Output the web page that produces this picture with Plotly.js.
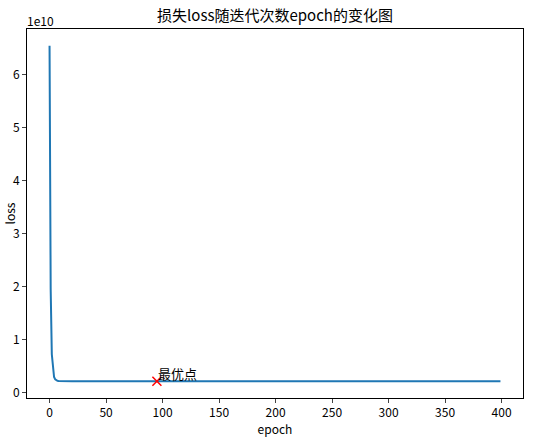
<!DOCTYPE html>
<html>
<head>
<meta charset="utf-8">
<script src="https://cdn.plot.ly/plotly-3.0.1.min.js"></script>
<style>html,body{margin:0;padding:0;background:#fff;}#chart{width:551px;height:442px;}</style>
</head>
<body>
<div id="chart"></div>
<script>
// Values
const epochs = [0, 1, 2, 3, 4, 5, 6, 7, 8, 10, 15, 20, 30, 50, 95, 150, 200, 250, 300, 350, 399];
const loss = [6.55e10, 1.95e10, 0.72e10, 0.40e10, 0.29e10, 0.245e10, 0.226e10, 0.218e10, 0.215e10, 0.213e10, 0.2122e10, 0.2118e10, 0.2115e10, 0.2112e10, 0.2110e10, 0.2111e10, 0.2112e10, 0.2112e10, 0.2113e10, 0.2113e10, 0.2113e10];
const bestEpoch = [95];
const bestLoss = [0.2110e10];
const xTicks = [0, 50, 100, 150, 200, 250, 300, 350, 400];
const yTicks = [0, 1e10, 2e10, 3e10, 4e10, 5e10, 6e10];
const yTickText = ['0', '1', '2', '3', '4', '5', '6'];

const FONT = 'Noto Sans CJK SC, sans-serif';

const traces = [
  {x: epochs, y: loss, type: 'scatter', mode: 'lines',
   line: {color: '#1f77b4', width: 2}, hoverinfo: 'skip'},
  {x: bestEpoch, y: bestLoss, type: 'scatter', mode: 'markers',
   marker: {symbol: 'x-thin', size: 9, color: 'red', line: {color: 'red', width: 1.5}}}
];

const layout = {
  width: 551, height: 442,
  margin: {l: 27, r: 28, t: 29, b: 44},
  paper_bgcolor: '#fff', plot_bgcolor: '#fff',
  showlegend: false,
  font: {family: FONT, color: '#000', size: 12},
  title: {text: '损失loss随迭代次数epoch的变化图', font: {family: FONT, size: 15, color: '#000'},
          x: 0.5, xref: 'paper', y: 1 - 16/442, yref: 'container', yanchor: 'middle'},
  xaxis: {range: [-19.95, 418.95], tickvals: xTicks, ticks: 'outside', ticklen: 4, tickwidth: 1,
          showline: true, mirror: true, linecolor: '#000', linewidth: 1, showgrid: false, zeroline: false,
          tickfont: {family: FONT, size: 12}, title: {text: 'epoch', font: {family: FONT, size: 12}, standoff: 4}},
  yaxis: {range: [-0.106e10, 6.867e10], tickvals: yTicks, ticktext: yTickText, ticks: 'outside', ticklen: 4, tickwidth: 1,
          showline: true, mirror: true, linecolor: '#000', linewidth: 1, showgrid: false, zeroline: false,
          tickfont: {family: FONT, size: 12}},
  annotations: [
    {text: '1e10', xref: 'paper', yref: 'paper', x: 0, y: 1, xanchor: 'left', yanchor: 'bottom',
     showarrow: false, font: {family: FONT, size: 12}, xshift: -2, yshift: -2},
    {text: 'loss', xref: 'paper', yref: 'paper', x: 0, y: 0.5, xanchor: 'center', yanchor: 'middle',
     textangle: -90, showarrow: false, font: {family: FONT, size: 12}, xshift: -18, borderpad: 0},
    {text: '最优点', xref: 'x', yref: 'y', x: bestEpoch[0], y: bestLoss[0], xanchor: 'left', yanchor: 'bottom',
     showarrow: false, font: {family: FONT, size: 13}, xshift: -1, yshift: -4}
  ]
};

Plotly.newPlot('chart', traces, layout, {staticPlot: true, displayModeBar: false});
</script>
</body>
</html>
